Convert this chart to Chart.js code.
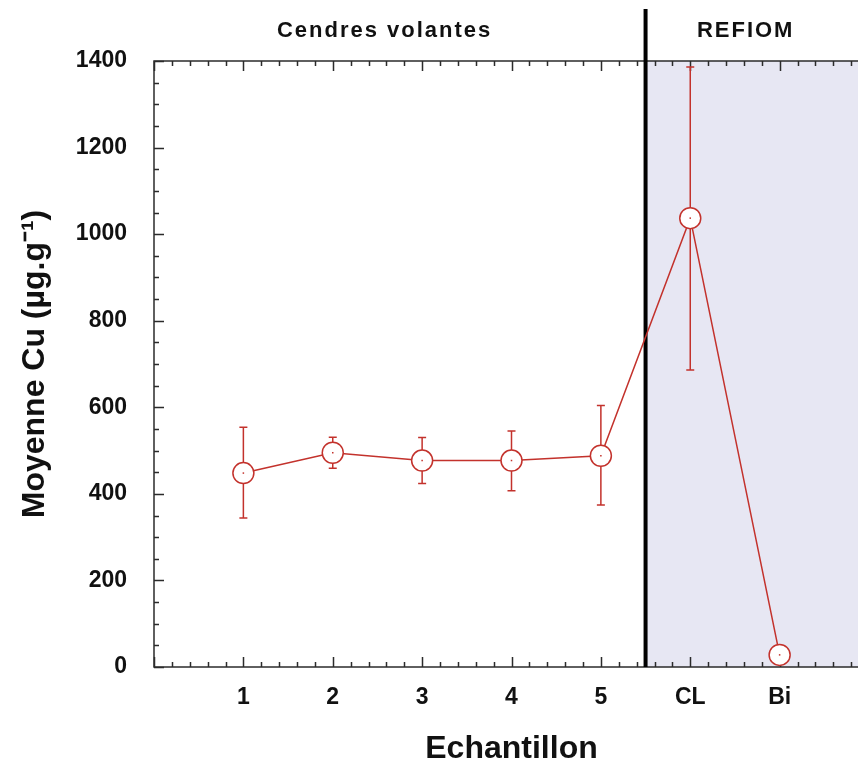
<!DOCTYPE html>
<html>
<head>
<meta charset="utf-8">
<script src="https://cdn.jsdelivr.net/npm/chart.js@4.4.1/dist/chart.umd.min.js"></script>
<style>
  html, body { margin: 0; padding: 0; background: #fff; overflow: hidden; }
  #wrap { width: 872px; height: 765px; }
</style>
</head>
<body>
<div id="wrap"><canvas id="cuChart" width="872" height="765"></canvas></div>
<script>
// sample names, mean Cu and error bar ends (µg/g)
const categories = ["1", "2", "3", "4", "5", "CL", "Bi"];
const meanCu = [448, 495, 477, 477, 488, 1037, 28];
const errLow = [344, 459, 424, 407, 374, 686, null];
const errHigh = [554, 531, 530, 545, 604, 1386, null];
const yTickValues = [0, 200, 400, 600, 800, 1000, 1200, 1400];

// groups: fly ash vs REFIOM, split at 5.5
const groupNames = ["Cendres volantes", "REFIOM"];
const groupLabelX = [2.58, 6.62];
const groupSplit = 5.5;

const red = "#c3322c";
const axisColor = "#2b2b2b";
const fontFamily = "'Liberation Sans', Arial, Helvetica, sans-serif";

const points = meanCu.map((v, i) => ({ x: i + 1, y: v }));

const decorPlugin = {
    id: "decor",
    beforeDraw(chart) {
        const { ctx, chartArea, scales } = chart;
        const xs = scales.x.getPixelForValue(groupSplit);
        ctx.save();
        ctx.fillStyle = "#e7e7f3";
        ctx.fillRect(xs, chartArea.top, chartArea.right - xs, chartArea.bottom - chartArea.top);
        ctx.restore();
    },
    beforeDatasetsDraw(chart) {
        const { ctx, chartArea, scales } = chart;
        const { left, right, top, bottom } = chartArea;
        ctx.save();

        // frame
        ctx.strokeStyle = axisColor;
        ctx.lineWidth = 1.5;
        ctx.strokeRect(left, top, right - left, bottom - top);

        // inward ticks, majors + minors
        ctx.beginPath();
        for (let v = 0; v <= 8.001; v += 0.2) {
            const major = Math.abs(v - Math.round(v)) < 0.01;
            const len = major ? 10 : 5;
            const x = Math.round(scales.x.getPixelForValue(v)) + 0.5;
            ctx.moveTo(x, bottom); ctx.lineTo(x, bottom - len);
            ctx.moveTo(x, top); ctx.lineTo(x, top + len);
        }
        for (let v = 0; v <= 1400; v += 50) {
            const major = v % 200 === 0;
            const len = major ? 10 : 5;
            const y = Math.round(scales.y.getPixelForValue(v)) + 0.5;
            ctx.moveTo(left, y); ctx.lineTo(left + len, y);
            ctx.moveTo(right, y); ctx.lineTo(right - len, y);
        }
        ctx.stroke();

        // divider between groups
        const xs = scales.x.getPixelForValue(groupSplit);
        ctx.strokeStyle = "#000";
        ctx.lineWidth = 4;
        ctx.beginPath();
        ctx.moveTo(xs, 9); ctx.lineTo(xs, bottom);
        ctx.stroke();

        // error bars under the markers
        ctx.strokeStyle = red;
        ctx.lineWidth = 1.5;
        meanCu.forEach((v, i) => {
            if (errLow[i] == null) return;
            const x = scales.x.getPixelForValue(i + 1);
            const y1 = scales.y.getPixelForValue(errLow[i]);
            const y2 = scales.y.getPixelForValue(errHigh[i]);
            ctx.beginPath();
            ctx.moveTo(x, y1); ctx.lineTo(x, y2);
            ctx.moveTo(x - 4, y1); ctx.lineTo(x + 4, y1);
            ctx.moveTo(x - 4, y2); ctx.lineTo(x + 4, y2);
            ctx.stroke();
        });

        // group headers
        ctx.fillStyle = "#111";
        ctx.font = "bold 22px " + fontFamily;
        ctx.letterSpacing = "2px";
        ctx.textAlign = "center";
        ctx.textBaseline = "middle";
        groupNames.forEach((name, i) => {
            ctx.fillText(name, scales.x.getPixelForValue(groupLabelX[i]), 31);
        });
        ctx.restore();
    },
    afterDatasetsDraw(chart) {
        // tiny dot in each marker
        const { ctx } = chart;
        ctx.save();
        ctx.fillStyle = red;
        chart.getDatasetMeta(0).data.forEach((pt) => {
            ctx.fillRect(pt.x - 0.75, pt.y - 0.75, 1.5, 1.5);
        });
        ctx.restore();
    },
};

document.addEventListener("DOMContentLoaded", () => {
    const ctx = document.getElementById("cuChart").getContext("2d");
    new Chart(ctx, {
        type: "line",
        data: {
            datasets: [
                {
                    label: "Moyenne Cu",
                    data: points,
                    borderColor: red,
                    borderWidth: 1.5,
                    pointRadius: 10.5,
                    pointBorderWidth: 1.5,
                    pointBackgroundColor: "#fff",
                    pointBorderColor: red,
                    tension: 0,
                    clip: false,
                },
            ],
        },
        options: {
            responsive: false,
            animation: false,
            layout: { autoPadding: false, padding: { top: 61, right: 3, left: 0, bottom: 0 } },
            plugins: {
                legend: { display: false },
                tooltip: { enabled: false },
            },
            scales: {
                x: {
                    type: "linear",
                    min: 0,
                    max: 8,
                    afterFit: (s) => { s.height = 98; },
                    afterBuildTicks: (s) => {
                        s.ticks = categories.map((c, i) => ({ value: i + 1 }));
                    },
                    ticks: {
                        autoSkip: false,
                        maxRotation: 0,
                        padding: 17,
                        color: "#111",
                        font: { family: fontFamily, size: 23, weight: "bold" },
                        callback: (v) => categories[v - 1] ?? "",
                    },
                    grid: { display: false, drawTicks: false },
                    border: { display: false },
                    title: {
                        display: true,
                        text: "Echantillon",
                        color: "#111",
                        font: { family: fontFamily, size: 32, weight: "bold", lineHeight: 1 },
                        padding: { top: 0, bottom: 0 },
                    },
                },
                y: {
                    min: 0,
                    max: 1400,
                    afterFit: (s) => { s.width = 154; },
                    afterBuildTicks: (s) => {
                        s.ticks = yTickValues.map((v) => ({ value: v }));
                    },
                    ticks: {
                        autoSkip: false,
                        padding: 27,
                        color: "#111",
                        font: { family: fontFamily, size: 23, weight: "bold" },
                        callback: (v) => String(v),
                    },
                    grid: { display: false, drawTicks: false },
                    border: { display: false },
                    title: {
                        display: true,
                        text: "Moyenne Cu (µg.g⁻¹)",
                        color: "#111",
                        font: { family: fontFamily, size: 32, weight: "bold", lineHeight: 1 },
                        padding: { top: 19, bottom: 0 },
                    },
                },
            },
        },
        plugins: [decorPlugin],
    });
});
</script>
</body>
</html>
